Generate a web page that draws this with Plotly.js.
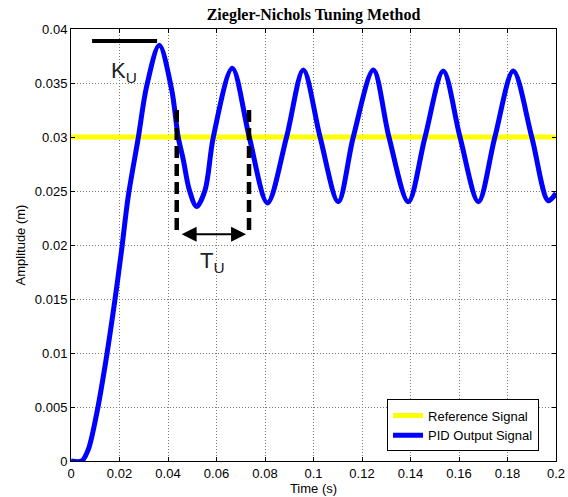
<!DOCTYPE html>
<html>
<head>
<meta charset="utf-8">
<script src="https://cdn.plot.ly/plotly-3.0.1.min.js"></script>
<style>
  html, body { margin: 0; padding: 0; background: #fff; }
  #chart { width: 568px; height: 497px; }
</style>
</head>
<body>
<div id="chart"></div>
<script>
// ---- data ----
const timeS = [0, 0.0044, 0.0071, 0.0106, 0.0140, 0.0181, 0.0209, 0.0236, 0.0278, 0.0312, 0.0364,
  0.0415, 0.0442, 0.0463, 0.0488, 0.0518, 0.0553, 0.0587, 0.0665, 0.0735, 0.0810, 0.0889, 0.0958,
  0.1027, 0.1102, 0.1164, 0.1247, 0.1311, 0.1391, 0.1460, 0.1535, 0.1604, 0.1680, 0.1748, 0.1824,
  0.1900, 0.1968, 0.2000];
const pidOutput = [0, 0, 0.00105, 0.0044, 0.00875, 0.0149, 0.0196, 0.0245, 0.0300, 0.0347, 0.0385,
  0.0344, 0.0300, 0.0279, 0.0251, 0.02356, 0.0251, 0.0300, 0.03636, 0.0300, 0.0239, 0.0300, 0.0362,
  0.0300, 0.0240, 0.0300, 0.0362, 0.0300, 0.0240, 0.0300, 0.0361, 0.0300, 0.0240, 0.0300, 0.0361,
  0.0300, 0.0241, 0.0248];
const refTime = [0, 0.2];
const refSignal = [0.03, 0.03];

const xTickVals = [0, 0.02, 0.04, 0.06, 0.08, 0.1, 0.12, 0.14, 0.16, 0.18, 0.2];
const xTickText = ['0', '0.02', '0.04', '0.06', '0.08', '0.1', '0.12', '0.14', '0.16', '0.18', '0.2'];
const yTickVals = [0, 0.005, 0.01, 0.015, 0.02, 0.025, 0.03, 0.035, 0.04];
const yTickText = ['0', '0.005', '0.01', '0.015', '0.02', '0.025', '0.03', '0.035', '0.04'];

// annotation marks (data coordinates)
const kuBarX = [0.0087, 0.0355];
const kuBarY = [0.0389, 0.0389];
const tuLeftX = [0.0436, 0.0436];
const tuRightX = [0.0734, 0.0734];
const tuDashY = [0.0325, 0.02085];
const tuArrowX = [0.0450, 0.0722];
const tuArrowY = 0.0210;
const kuLabelPos = [0.0158, 0.0360];
const tuLabelPos = [0.0523, 0.01844];

const FONT = '"Liberation Sans", Arial, Helvetica, sans-serif';

const traces = [
  { x: refTime, y: refSignal, mode: 'lines', name: 'Reference Signal',
    line: { color: '#FFFF00', width: 5 } },
  { x: timeS, y: pidOutput, mode: 'lines', name: 'PID Output Signal',
    line: { color: '#0000FF', width: 5, shape: 'spline', smoothing: 0.9 } },
  { x: kuBarX, y: kuBarY, mode: 'lines', showlegend: false, hoverinfo: 'skip',
    line: { color: '#000', width: 4 } },
  { x: tuLeftX, y: tuDashY, mode: 'lines', showlegend: false, hoverinfo: 'skip',
    line: { color: '#000', width: 4.5, dash: '12px,6px' } },
  { x: tuRightX, y: tuDashY, mode: 'lines', showlegend: false, hoverinfo: 'skip',
    line: { color: '#000', width: 4.5, dash: '12px,6px' } }
];

const axisCommon = {
  showline: true, linecolor: '#000', linewidth: 1, mirror: 'ticks',
  ticks: 'inside', ticklen: 4, tickcolor: '#000', tickwidth: 1,
  showgrid: true, gridcolor: '#7a7a7a', gridwidth: 1, griddash: '1px,2px',
  zeroline: false, tickfont: { family: FONT, size: 13, color: '#000' }
};

const layout = {
  width: 568, height: 497,
  margin: { l: 71, r: 12, t: 29, b: 36 },
  paper_bgcolor: '#fff', plot_bgcolor: '#fff',
  title: { text: 'Ziegler-Nichols Tuning Method', x: 0.5, xref: 'paper', xanchor: 'center',
    y: 0.972, yref: 'container', yanchor: 'middle',
    font: { family: '"Liberation Serif", "Times New Roman", serif', size: 16, color: '#000', weight: 'bold' } },
  xaxis: Object.assign({}, axisCommon, {
    range: [0, 0.2], tickmode: 'array', tickvals: xTickVals, ticktext: xTickText,
    title: { text: 'Time (s)', standoff: 4, font: { family: FONT, size: 13, color: '#000' } }
  }),
  yaxis: Object.assign({}, axisCommon, {
    range: [0, 0.04], tickmode: 'array', tickvals: yTickVals, ticktext: yTickText,
    title: { text: 'Amplitude (m)', standoff: 6, font: { family: FONT, size: 13, color: '#000' } }
  }),
  showlegend: true,
  legend: { x: 0.965, xanchor: 'right', y: 0.022, yanchor: 'bottom',
    bgcolor: '#fff', bordercolor: '#000', borderwidth: 1,
    font: { family: FONT, size: 13, color: '#000' }, tracegroupgap: 0 },
  annotations: [
    { x: tuArrowX[1], y: tuArrowY, ax: tuArrowX[0], ay: tuArrowY, xref: 'x', yref: 'y', axref: 'x', ayref: 'y',
      text: '', showarrow: true, arrowside: 'end+start', arrowhead: 2, startarrowhead: 2,
      arrowwidth: 2, arrowsize: 1.5, startarrowsize: 1.5, arrowcolor: '#000', standoff: 0, startstandoff: 0 },
    { x: kuLabelPos[0], y: kuLabelPos[1], xref: 'x', yref: 'y', xanchor: 'left', yanchor: 'middle',
      text: 'K<sub>U</sub>', showarrow: false, font: { family: FONT, size: 22, color: '#222' } },
    { x: tuLabelPos[0], y: tuLabelPos[1], xref: 'x', yref: 'y', xanchor: 'left', yanchor: 'middle',
      text: 'T<sub>U</sub>', showarrow: false, font: { family: FONT, size: 22, color: '#222' } }
  ]
};

Plotly.newPlot('chart', traces, layout, { displayModeBar: false, staticPlot: true });
</script>
</body>
</html>
